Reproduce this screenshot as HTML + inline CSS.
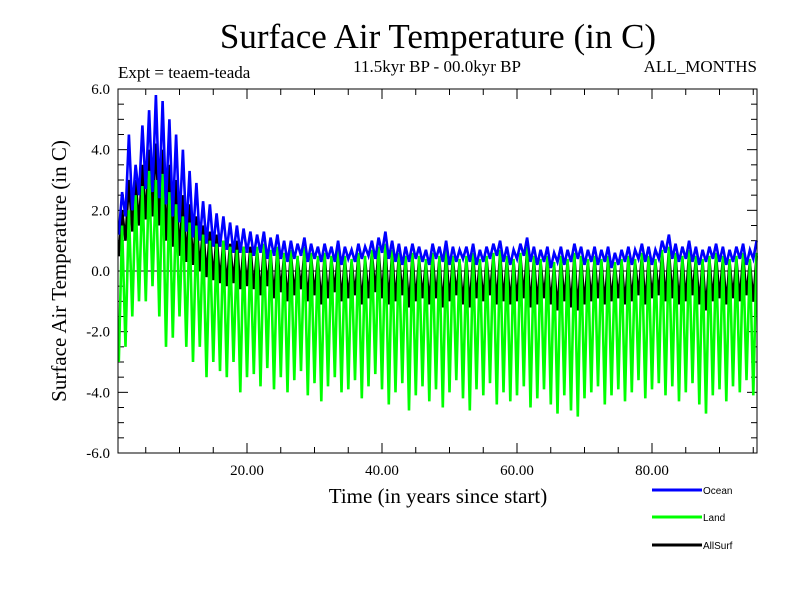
<!DOCTYPE html>
<html><head><meta charset="utf-8"><style>
body{margin:0;background:#fff}
svg text{font-family:"Liberation Serif",serif}
</style></head><body>
<svg id="chart" width="800" height="600" xmlns="http://www.w3.org/2000/svg">
<rect width="800" height="600" fill="#fff"/>
<text x="438" y="48" font-size="35" text-anchor="middle">Surface Air Temperature (in C)</text>
<text x="118" y="78" font-size="17">Expt = teaem-teada</text>
<text x="437" y="72" font-size="17" text-anchor="middle">11.5kyr BP - 00.0kyr BP</text>
<text x="757" y="72" font-size="17" text-anchor="end">ALL_MONTHS</text>
<text transform="translate(66,271) rotate(-90)" font-size="21" text-anchor="middle">Surface Air Temperature (in C)</text>
<text x="438" y="503" font-size="21" text-anchor="middle">Time (in years since start)</text>
<g id="axes"></g>
<g id="series"></g>
<rect x="118" y="89" width="639" height="364" fill="none" stroke="#000" stroke-width="1"/>
<g font-size="10">
<line x1="652" y1="490" x2="702" y2="490" stroke="#0000ff" stroke-width="3"/>
<text x="703" y="494" style="font-family:'Liberation Sans',sans-serif">Ocean</text>
<line x1="652" y1="517" x2="702" y2="517" stroke="#00ff00" stroke-width="3"/>
<text x="703" y="521" style="font-family:'Liberation Sans',sans-serif">Land</text>
<line x1="652" y1="545" x2="702" y2="545" stroke="#000" stroke-width="3"/>
<text x="703" y="549" style="font-family:'Liberation Sans',sans-serif">AllSurf</text>
</g>
</svg>
<script>
const yTickLabels=["-6.0","-4.0","-2.0","0.0","2.0","4.0","6.0"];
const xTickLabels=["20.00","40.00","60.00","80.00"];
const oceanHigh=[2.6,4.5,3.5,4.8,5.3,5.8,5.6,5.0,4.5,4.0,3.3,2.9,2.3,2.2,1.9,1.8,1.6,1.5,1.4,1.3,
1.2,1.3,1.1,1.2,1.0,1.0,0.9,1.1,0.9,0.8,0.9,0.8,1.0,0.8,0.7,0.9,0.8,1.0,1.1,1.3,1.0,0.9,0.8,0.9,0.8,0.7,0.9,0.8,1.0,0.8,0.7,0.8,0.9,0.7,0.8,0.9,1.0,0.8,0.7,0.9,1.1,0.8,0.7,0.8,0.6,0.8,0.7,0.9,0.8,0.7,0.8,0.7,0.8,0.6,0.7,0.8,0.7,0.9,0.8,0.7,1.0,1.2,0.9,0.8,1.0,0.8,0.7,0.8,0.9,0.8,0.7,0.8,0.9,0.7,1.0];
const oceanLow=[1.2,1.8,2.0,2.5,2.7,2.6,2.4,2.2,1.8,1.6,1.3,1.1,1.0,0.9,0.8,0.8,0.7,0.6,0.6,0.6,
0.5,0.6,0.4,0.5,0.4,0.3,0.4,0.5,0.3,0.4,0.3,0.4,0.3,0.2,0.4,0.3,0.4,0.5,0.4,0.6,0.4,0.3,0.2,0.3,0.4,0.3,0.2,0.4,0.3,0.2,0.3,0.4,0.3,0.2,0.3,0.4,0.5,0.3,0.2,0.4,0.5,0.3,0.2,0.3,0.1,0.3,0.2,0.3,0.4,0.2,0.3,0.2,0.3,0.1,0.2,0.3,0.2,0.4,0.3,0.2,0.4,0.6,0.4,0.3,0.4,0.3,0.2,0.3,0.4,0.3,0.2,0.3,0.4,0.2,0.4];
const landHigh=[1.5,2.0,2.5,2.8,3.3,3.0,3.2,2.6,2.2,1.8,1.6,1.5,1.2,1.0,0.9,1.0,0.8,0.7,0.8,0.6,
0.8,0.9,0.7,0.8,0.6,0.7,0.5,0.8,0.6,0.5,0.6,0.5,0.7,0.5,0.4,0.6,0.5,0.7,0.8,0.9,0.7,0.6,0.5,0.6,0.5,0.4,0.6,0.5,0.7,0.5,0.4,0.5,0.6,0.4,0.5,0.6,0.7,0.5,0.4,0.6,0.8,0.5,0.4,0.5,0.3,0.5,0.4,0.6,0.5,0.4,0.5,0.4,0.5,0.3,0.4,0.5,0.4,0.6,0.5,0.4,0.7,0.8,0.6,0.5,0.7,0.5,0.4,0.5,0.6,0.5,0.4,0.5,0.6,0.4,0.6];
const landLow=[-3.0,-2.5,-1.5,-1.0,-1.0,-0.5,-1.5,-2.5,-2.2,-1.5,-2.5,-3.0,-2.5,-3.5,-3.0,-3.3,-3.5,-3.0,-4.0,-3.5,
-3.4,-3.8,-3.2,-3.9,-3.5,-4.0,-3.6,-3.3,-4.1,-3.7,-4.3,-3.8,-3.5,-4.0,-3.9,-3.6,-4.2,-3.8,-3.4,-3.9,-4.4,-4.0,-3.7,-4.6,-4.1,-3.8,-4.3,-3.9,-4.5,-4.0,-3.6,-4.2,-4.6,-3.9,-4.1,-3.7,-4.4,-4.0,-4.3,-4.1,-3.8,-4.5,-4.2,-3.9,-4.4,-4.7,-4.1,-4.6,-4.8,-4.2,-4.0,-3.8,-4.4,-4.1,-3.9,-4.3,-4.0,-3.6,-4.2,-3.9,-3.7,-4.1,-3.8,-4.3,-4.0,-3.7,-4.4,-4.7,-4.1,-3.9,-4.3,-3.8,-4.0,-3.6,-4.1];
const allHigh=[2.0,3.0,3.0,3.5,4.0,4.2,4.0,3.5,3.0,2.5,2.2,1.8,1.5,1.3,1.2,1.0,0.9,1.0,0.8,0.8,
0.7,0.8,0.6,0.7,0.5,0.6,0.4,0.6,0.5,0.4,0.5,0.4,0.6,0.4,0.3,0.5,0.4,0.6,0.7,0.8,0.6,0.5,0.4,0.5,0.4,0.3,0.5,0.4,0.6,0.4,0.3,0.4,0.5,0.3,0.4,0.5,0.6,0.4,0.3,0.5,0.7,0.4,0.3,0.4,0.2,0.4,0.3,0.5,0.4,0.3,0.4,0.3,0.4,0.2,0.3,0.4,0.3,0.5,0.4,0.3,0.6,0.7,0.5,0.4,0.6,0.4,0.3,0.4,0.5,0.4,0.3,0.4,0.5,0.3,0.5];
const allLow=[0.5,1.0,1.3,1.5,1.7,1.8,1.5,1.0,0.8,0.5,0.3,0.2,0.0,-0.2,-0.3,-0.4,-0.5,-0.4,-0.6,-0.5,
-0.6,-0.8,-0.5,-0.9,-0.7,-1.0,-0.8,-0.6,-1.0,-0.8,-1.1,-0.9,-0.7,-1.0,-0.9,-0.8,-1.1,-0.9,-0.7,-0.9,-1.1,-1.0,-0.8,-1.2,-1.0,-0.9,-1.1,-0.9,-1.2,-1.0,-0.8,-1.1,-1.2,-0.9,-1.0,-0.8,-1.1,-1.0,-1.1,-1.0,-0.9,-1.2,-1.1,-0.9,-1.1,-1.3,-1.0,-1.2,-1.3,-1.1,-1.0,-0.9,-1.1,-1.0,-0.9,-1.1,-1.0,-0.8,-1.1,-0.9,-0.8,-1.0,-0.9,-1.1,-1.0,-0.8,-1.1,-1.3,-1.0,-0.9,-1.1,-0.9,-1.0,-0.8,-1.0];

const NS='http://www.w3.org/2000/svg';
const X0=118,X1=757,Y0=89,Y1=453;
function xs(t){return 112+t*6.75;}
function ys(v){return Y1-(v+6)/12*(Y1-Y0);}
function mk(tag,attrs,parent){const e=document.createElementNS(NS,tag);for(const k in attrs)e.setAttribute(k,attrs[k]);parent.appendChild(e);return e;}
const axes=document.getElementById('axes');
const z=mk('line',{x1:X0,x2:X1,y1:ys(0),y2:ys(0),stroke:'#000','stroke-width':1},axes);


for(let v=-6;v<=6.001;v+=0.5){
  const major=Math.abs(v/2-Math.round(v/2))<1e-6;
  const L=major?10:6;
  const y=ys(v);
  const t1=mk('line',{x1:X0,x2:X0+L,y1:y,y2:y,stroke:'#000','stroke-width':1},axes);
  
  
  const t2=mk('line',{x1:X1-L,x2:X1,y1:y,y2:y,stroke:'#000','stroke-width':1},axes);
  
  
}
yTickLabels.forEach(s=>{
  const tx=mk('text',{x:110,y:ys(parseFloat(s))+5,'font-size':15,'text-anchor':'end'},axes);
  tx.textContent=s;
  
  
});
for(let t=5;t<=95;t+=5){
  const major=t%20===0;const L=major?10:6;const x=xs(t);
  const a=mk('line',{x1:x,x2:x,y1:Y1,y2:Y1-L,stroke:'#000','stroke-width':1},axes);
  
  
  const b=mk('line',{x1:x,x2:x,y1:Y0,y2:Y0+L,stroke:'#000','stroke-width':1},axes);
  
  
}
xTickLabels.forEach(s=>{
  const tx=mk('text',{x:xs(parseFloat(s)),y:475,'font-size':15,'text-anchor':'middle'},axes);
  tx.textContent=s;
  
  
});
const ser=document.getElementById('series');
function draw(hi,lo,color,name){
  const n=Math.min(hi.length,lo.length);let d='';
  for(let i=0;i<n;i++){
    const t=i+1;
    d+=(i?'L':'M')+xs(t).toFixed(1)+','+ys(lo[i]).toFixed(1)+'L'+xs(t+0.5).toFixed(1)+','+ys(hi[i]).toFixed(1);
  }
  const p=mk('path',{d:d,fill:'none',stroke:color,'stroke-width':2.6,'stroke-linejoin':'miter'},ser);
  
  
}
draw(allHigh,allLow,'#000','allsurf-line');
draw(landHigh,landLow,'#00ff00','land-line');
draw(oceanHigh,oceanLow,'#0000ff','ocean-line');
</script>
</body></html>
